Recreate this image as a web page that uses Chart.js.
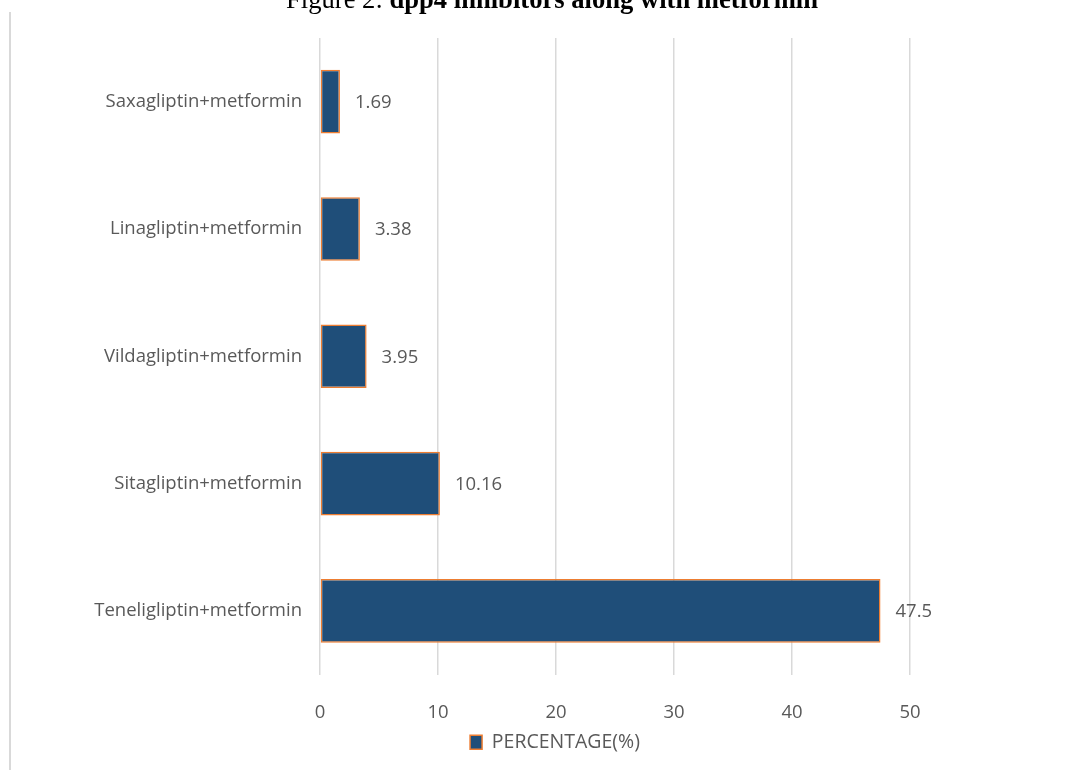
<!DOCTYPE html>
<html>
<head>
<meta charset="utf-8">
<script src="https://cdn.jsdelivr.net/npm/chart.js@4.4.1/dist/chart.umd.min.js"></script>
<style>
html,body{margin:0;padding:0;background:#fff;}
#wrap{position:relative;width:1078px;height:770px;}
</style>
</head>
<body>
<div id="wrap"><canvas id="c" width="1078" height="770"></canvas></div>
<script>
const categories = ["Saxagliptin+metformin","Linagliptin+metformin","Vildagliptin+metformin","Sitagliptin+metformin","Teneligliptin+metformin"];
const percentages = [1.69, 3.38, 3.95, 10.16, 47.5];
const valueLabels = ["1.69","3.38","3.95","10.16","47.5"];
const xTicks = [0,10,20,30,40,50];
const seriesName = "PERCENTAGE(%)";

const FONT = "'Open Sans', sans-serif";
const GRAY = "#595959";

const framePlugin = {
  id: 'frame',
  afterLayout(chart) {
    // Excel centres the legend under the plot area, not the whole chart
    const lg = chart.legend;
    if (lg) {
      const shift = 100;
      lg.left += shift;
      lg.right += shift;
    }
  },
  beforeDraw(chart) {
    const ctx = chart.ctx;
    ctx.save();
    ctx.fillStyle = '#fff';
    ctx.fillRect(0,0,chart.width,chart.height);
    ctx.strokeStyle = '#d9d9d9';
    ctx.lineWidth = 2;
    ctx.beginPath();
    ctx.moveTo(10, 12);
    ctx.lineTo(10, chart.height);
    ctx.stroke();
    // title (top clipped as in the reference)
    ctx.fillStyle = '#000';
    ctx.textBaseline = 'alphabetic';
    const a = "Figure 2: ", b = "dpp4 inhibitors along with metformin";
    const fa = "26.6px 'Liberation Serif', serif", fb = "bold 26.6px 'Liberation Serif', serif";
    ctx.font = fa;
    const wa = ctx.measureText(a).width;
    ctx.font = fb;
    const wb = ctx.measureText(b).width;
    const x0 = 552 - (wa + wb) / 2;
    ctx.font = fa;
    ctx.fillText(a, x0, 7.5);
    ctx.font = fb;
    ctx.fillText(b, x0 + wa, 7.5);
    ctx.restore();
  }
};

const valuePlugin = {
  id: 'values',
  afterDatasetsDraw(chart) {
    const ctx = chart.ctx;
    const meta = chart.getDatasetMeta(0);
    ctx.save();
    ctx.font = "18.5px " + FONT;
    ctx.fillStyle = GRAY;
    ctx.textAlign = 'left';
    ctx.textBaseline = 'middle';
    meta.data.forEach((bar, i) => {
      ctx.fillText(valueLabels[i], bar.x + 15, bar.y + 1);
    });
    ctx.restore();
  }
};

new Chart(document.getElementById('c'), {
  type: 'bar',
  data: {
    labels: categories,
    datasets: [{
      label: seriesName,
      data: percentages,
      backgroundColor: '#1f4e79',
      borderColor: '#ed7d31',
      borderWidth: 1.5,
      borderSkipped: false,
      barPercentage: 0.5,
      categoryPercentage: 1.0
    }]
  },
  options: {
    indexAxis: 'y',
    responsive: false,
    animation: false,
    devicePixelRatio: 1,
    layout: { padding: { left: 0, right: 168, top: 38, bottom: 8 } },
    plugins: {
      legend: {
        position: 'bottom',
        labels: {
          font: { family: FONT, size: 19.5 },
          color: GRAY,
          boxWidth: 12,
          boxHeight: 14,
          padding: 2
        },
        onClick: null
      },
      tooltip: { enabled: false },
      title: { display: false }
    },
    scales: {
      x: {
        min: 0, max: 50,
        afterBuildTicks(s) { s.ticks = xTicks.map(v => ({ value: v })); },
        grid: { color: '#d9d9d9', lineWidth: 1.5, drawTicks: false },
        border: { display: false },
        ticks: { color: GRAY, font: { family: FONT, size: 18.5 }, padding: 27 },
        afterFit(s) { s.height = 56; }
      },
      y: {
        grid: { display: false, drawTicks: false },
        border: { display: false },
        ticks: { color: GRAY, font: { family: FONT, size: 18.5 }, padding: 18, autoSkip: false },
        afterFit(s) { s.width = 320; }
      }
    }
  },
  plugins: [framePlugin, valuePlugin]
});
</script>
</body>
</html>
